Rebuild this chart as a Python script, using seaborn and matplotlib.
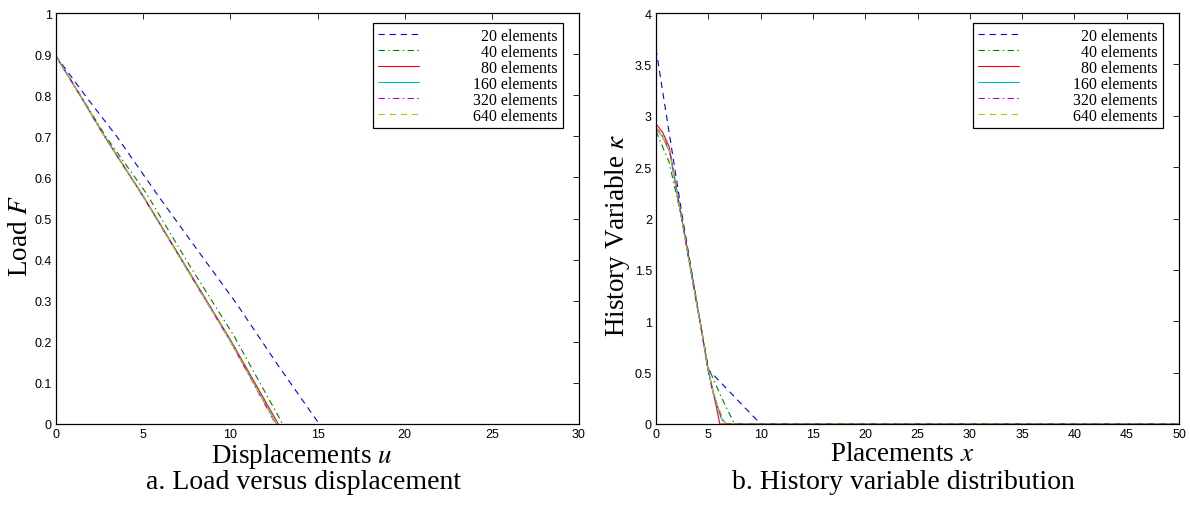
import numpy as np
import pandas as pd
import matplotlib
matplotlib.use("Agg")
import matplotlib.pyplot as plt
import seaborn as sns

# ---------------- data ----------------
labels = ["  20 elements", "  40 elements", "  80 elements",
          "160 elements", "320 elements", "640 elements"]
colors = ["#0000ff", "#008000", "#ff0000", "#00bfbf", "#bf00bf", "#bfbf00"]
styles = [(0, (4.5, 3.5)), (0, (4.5, 2.5, 1, 2.5)), "-", "-",
          (0, (4.5, 2.5, 1, 2.5)), (0, (4.5, 3.5))]

# Load versus displacement
u20 = [0, 0, 1, 1.66, 3.48, 5.78, 8, 10.37, 12.7, 15.1]
F20 = [0, 0.895, 0.838, 0.80, 0.70, 0.56, 0.43, 0.292, 0.145, 0]
u40 = [0, 0, 1.4, 2.85, 5.2, 7.6, 10.2, 13.0]
F40 = [0, 0.895, 0.80, 0.70, 0.56, 0.39, 0.215, 0]
u80 = [0, 0, 1.38, 2.79, 5.0, 7.5, 10, 12.75]
F80 = [0, 0.895, 0.80, 0.70, 0.555, 0.38, 0.205, 0]
u160 = [0, 0, 1.37, 2.78, 4.98, 7.47, 9.96, 12.65]
F160 = [0, 0.895, 0.80, 0.70, 0.555, 0.38, 0.205, 0]
u320 = [0, 0, 1.37, 2.77, 4.97, 7.46, 9.95, 12.6]
F320 = [0, 0.895, 0.80, 0.70, 0.555, 0.38, 0.205, 0]
u640 = [0, 0, 1.37, 2.78, 4.97, 7.46, 9.95, 12.62]
F640 = [0, 0.895, 0.80, 0.70, 0.555, 0.38, 0.205, 0]

# History variable distribution
x20 = [0, 2.5, 5, 10, 50]
k20 = [3.65, 2.03, 0.53, 0, 0]
x40 = [0, 1.25, 2.5, 3.75, 5, 6.25, 7.5, 50]
k40 = [2.85, 2.55, 1.98, 1.27, 0.55, 0.26, 0, 0]
x80 = [0, 0.625, 1.25, 1.875, 2.5, 3.125, 3.75, 4.375, 5, 5.625, 6.1, 50]
k80 = [2.92, 2.84, 2.70, 2.34, 1.98, 1.62, 1.26, 0.90, 0.52, 0.24, 0, 0]
x160 = [0, 0.6, 1.3, 2, 2.5, 3, 3.75, 4.4, 4.9, 5.5, 6.2, 6.75, 50]
k160 = [2.87, 2.80, 2.65, 2.25, 1.97, 1.68, 1.25, 0.88, 0.57, 0.30, 0.06, 0, 0]
x320 = [0, 0.6, 1.3, 2, 2.5, 3, 3.75, 4.4, 4.9, 5.5, 6.5, 50]
k320 = [2.88, 2.81, 2.66, 2.26, 1.97, 1.68, 1.25, 0.88, 0.56, 0.28, 0, 0]
x640 = [0, 0.6, 1.3, 2, 2.5, 3, 3.75, 4.4, 4.9, 5.5, 6.6, 50]
k640 = [2.87, 2.80, 2.65, 2.25, 1.97, 1.68, 1.25, 0.88, 0.57, 0.29, 0, 0]

left_x = [u20, u40, u80, u160, u320, u640]
left_y = [F20, F40, F80, F160, F320, F640]
right_x = [x20, x40, x80, x160, x320, x640]
right_y = [k20, k40, k80, k160, k320, k640]

left_xticks = [0, 5, 10, 15, 20, 25, 30]
left_yticks = [0, 0.1, 0.2, 0.3, 0.4, 0.5, 0.6, 0.7, 0.8, 0.9, 1]
left_yticklabels = ["0", "0.1", "0.2", "0.3", "0.4", "0.5", "0.6", "0.7", "0.8", "0.9", "1"]
right_xticks = [0, 5, 10, 15, 20, 25, 30, 35, 40, 45, 50]
right_yticks = [0, 0.5, 1, 1.5, 2, 2.5, 3, 3.5, 4]
right_yticklabels = ["0", "0.5", "1", "1.5", "2", "2.5", "3", "3.5", "4"]

# ---------------- style ----------------
sns.set_style("white")
plt.rcParams["font.family"] = ["Liberation Sans", "DejaVu Sans"]
plt.rcParams["mathtext.fontset"] = "stix"
plt.rcParams["lines.scale_dashes"] = False
plt.rcParams["text.color"] = "black"
plt.rcParams["axes.labelcolor"] = "black"
plt.rcParams["xtick.color"] = "black"
plt.rcParams["ytick.color"] = "black"

SERIF = "Liberation Serif"

fig = plt.figure(figsize=(11.9, 5.06), dpi=100)
W, H = 1190, 506
ax1 = fig.add_axes([56 / W, (H - 425) / H, 523 / W, 411 / H])
ax2 = fig.add_axes([656 / W, (H - 425) / H, 523 / W, 411 / H])


def draw(ax, xs, ys):
    for xv, yv, c, ls, lab in zip(xs, ys, colors, styles, labels):
        df = pd.DataFrame({"x": xv, "y": yv})
        sns.lineplot(data=df, x="x", y="y", ax=ax, estimator=None, sort=False,
                     color=c, linestyle=ls, linewidth=0.8, label=lab)


draw(ax1, left_x, left_y)
draw(ax2, right_x, right_y)

for ax, xl, yl, xt, yt, ytl, xlab, ylab in [
    (ax1, (0, 30), (0, 1), left_xticks, left_yticks, left_yticklabels,
     r"Displacements $u$", r"Load $F$"),
    (ax2, (0, 50), (0, 4), right_xticks, right_yticks, right_yticklabels,
     r"Placements $x$", r"History Variable $\kappa$"),
]:
    ax.set_xlim(*xl)
    ax.set_ylim(*yl)
    ax.set_xticks(xt)
    ax.set_xticklabels([str(v) for v in xt])
    ax.set_yticks(yt)
    ax.set_yticklabels(ytl)
    ax.tick_params(direction="in", top=True, right=True, length=4, width=0.6,
                   labelsize=9, pad=3, colors="black")
    for s in ax.spines.values():
        s.set_color("black")
        s.set_linewidth(0.9)
    ax.set_xlabel(xlab, fontsize=19.5, family=SERIF, color="black")
    ax.set_ylabel(ylab, fontsize=19.5, family=SERIF, color="black")
    ax.xaxis.set_label_coords(0.47, -0.041)
    ax.grid(False)
    leg = ax.legend(loc="upper right", bbox_to_anchor=(0.969, 0.976),
                    borderaxespad=0, prop={"family": SERIF, "size": 11.5},
                    labelspacing=0.0, handlelength=2.6, handletextpad=3.4,
                    borderpad=0.3, fancybox=False, framealpha=1,
                    edgecolor="black")
    leg.get_frame().set_linewidth(0.9)
    for t in leg.get_texts():
        t.set_color("black")

ax1.yaxis.set_label_coords(-0.044, 0.46)
ax2.yaxis.set_label_coords(-0.045, 0.46)

fig.text(303 / W, (H - 483) / H, "a. Load versus displacement", ha="center",
         va="center", fontsize=20, family=SERIF, color="black")
fig.text(903 / W, (H - 483) / H, "b. History variable distribution", ha="center",
         va="center", fontsize=20, family=SERIF, color="black")

fig.savefig("out.png", dpi=100, facecolor="white")
